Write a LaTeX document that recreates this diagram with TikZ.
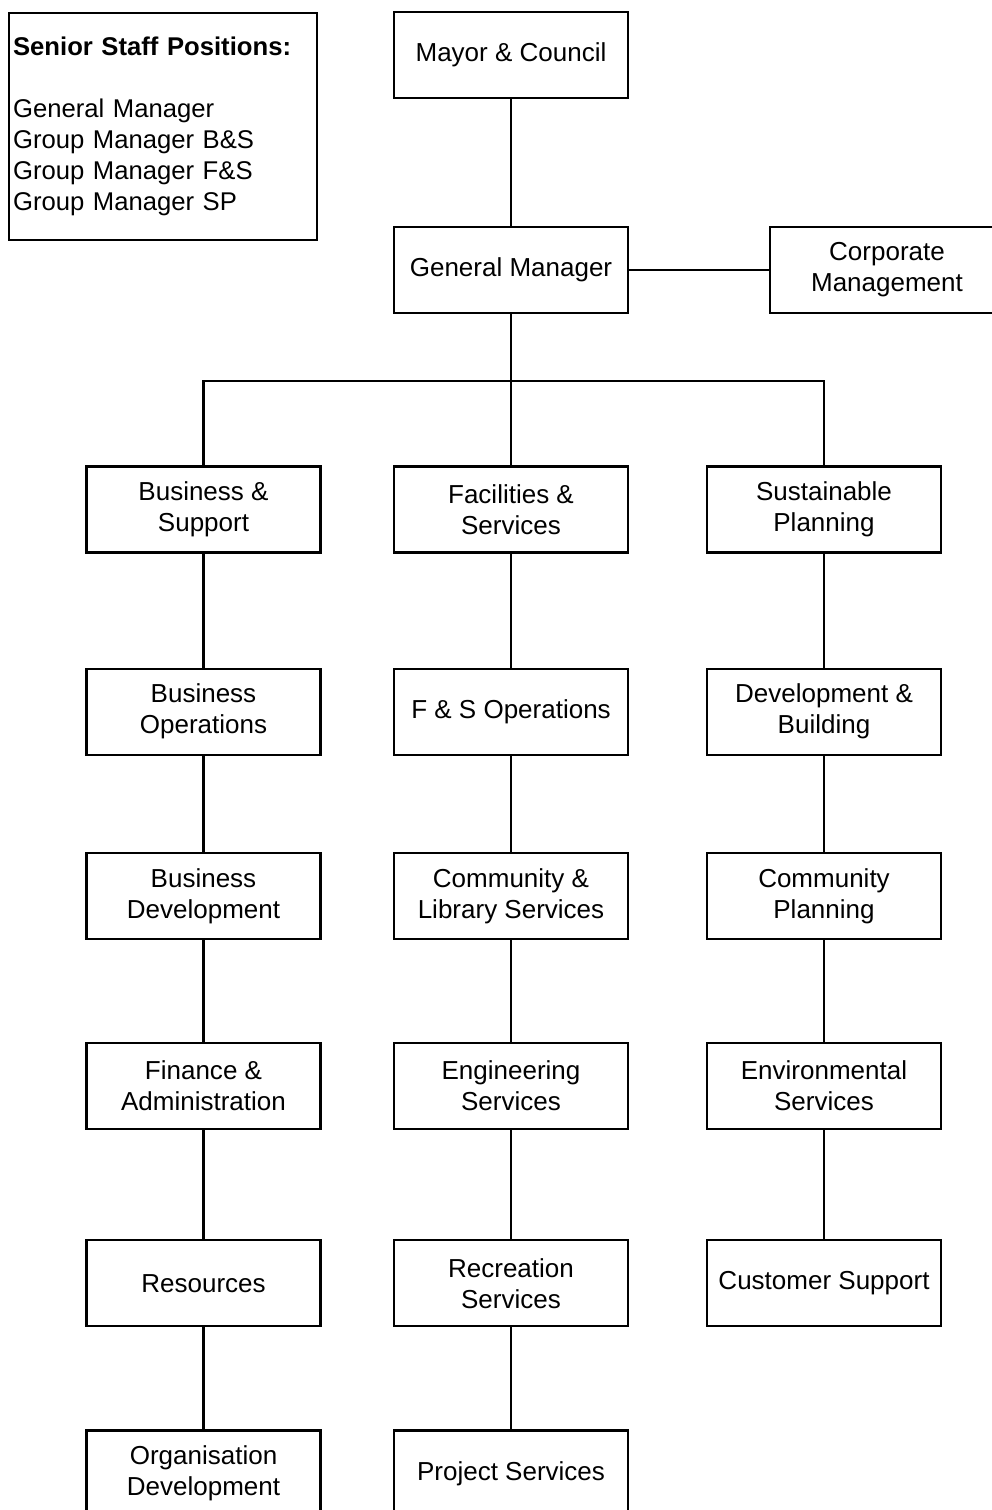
\documentclass[tikz,border=0pt]{standalone}
\usepackage{fontspec}
\setmainfont{Liberation Sans}
\usepackage{tikz}
\usetikzlibrary{positioning,calc}

\begin{document}
\begin{tikzpicture}[
    unit/.style={
        draw,
        line width=1.25pt,
        minimum width=4.68cm,
        minimum height=1.72cm,
        inner sep=2pt,
        align=center,
        font=\fontsize{14.8pt}{17.6pt}\selectfont
    },
    link/.style={line width=1.2pt}
]
\useasboundingbox (0,0) rectangle (19.84,-30.2);

\node[draw, line width=1.25pt, anchor=north west, minimum width=6.16cm, minimum height=4.54cm,
      text width=6cm, inner xsep=0.08cm, align=left,
      font=\fontsize{14.6pt}{17.6pt}\selectfont] (staff) at (0.16,-0.24)
    {\textbf{Senior Staff Positions:}\\[17.6pt]
     General Manager\\
     Group Manager B\&S\\
     Group Manager F\&S\\
     Group Manager SP};

\node[unit] (mayor) at (10.22,-1.10) {Mayor \& Council};
\node[unit] (gm) at (10.22,-5.40) {General Manager};
\node[unit] (corp) at (17.74,-5.40) {Corporate\\Management};
\coordinate[below=1.34cm of gm.south] (bus);

% Business & Support
\node[unit] (bs) at (4.07,-10.19) {Business \&\\Support};
\node[unit, below=2.28cm of bs] (bops) {Business\\Operations};
\node[unit, below=1.92cm of bops] (bdev) {Business\\Development};
\node[unit, below=2.04cm of bdev] (fin) {Finance \&\\Administration};
\node[unit, below=2.18cm of fin] (res) {Resources};
\node[unit, below=2.04cm of res] (odev) {Organisation\\Development};

% Facilities & Services
\node[unit] (fs) at (10.22,-10.19) {Facilities \&\\Services};
\node[unit, below=2.28cm of fs] (fsops) {F \& S Operations};
\node[unit, below=1.92cm of fsops] (comlib) {Community \&\\Library Services};
\node[unit, below=2.04cm of comlib] (eng) {Engineering\\Services};
\node[unit, below=2.18cm of eng] (rec) {Recreation\\Services};
\node[unit, below=2.04cm of rec] (proj) {Project Services};

% Sustainable Planning
\node[unit] (sp) at (16.48,-10.19) {Sustainable\\Planning};
\node[unit, below=2.28cm of sp] (devb) {Development \&\\Building};
\node[unit, below=1.92cm of devb] (comp) {Community\\Planning};
\node[unit, below=2.04cm of comp] (env) {Environmental\\Services};
\node[unit, below=2.18cm of env] (cust) {Customer Support};

\draw[link] (mayor) -- (gm);
\draw[link] (gm) -- (corp);
\draw[line width=1.6pt] (gm) -- (bus);
\draw[link] (bs.north) -- (bs.north |- bus) -- (sp.north |- bus) -- (sp.north);
\draw[link] (bus) -- (fs.north);

\draw[link] (bs) -- (bops) -- (bdev) -- (fin) -- (res) -- (odev);
\draw[link] (fs) -- (fsops) -- (comlib) -- (eng) -- (rec) -- (proj);
\draw[link] (sp) -- (devb) -- (comp) -- (env) -- (cust);
\end{tikzpicture}
\end{document}
